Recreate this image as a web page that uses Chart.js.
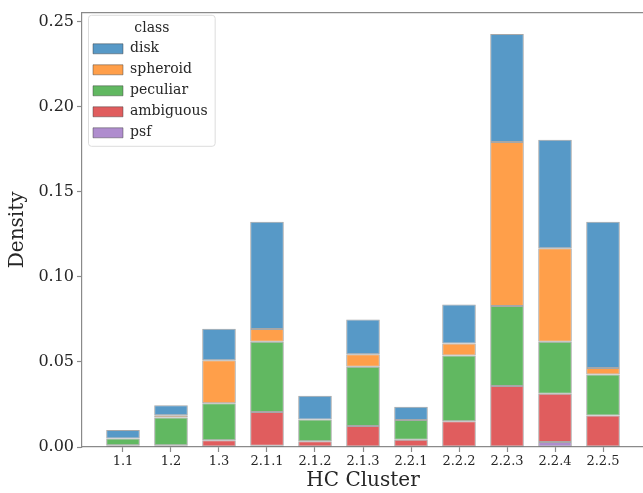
<!DOCTYPE html>
<html>
<head>
<meta charset="utf-8">
<script src="https://cdn.jsdelivr.net/npm/chart.js@4.4.1/dist/chart.umd.min.js"></script>
<style>
  html, body { margin: 0; padding: 0; background: #fff; overflow: hidden; }
  #wrap { width: 660px; height: 493px; }
</style>
</head>
<body>
<div id="wrap"><canvas id="chart" width="660" height="493"></canvas></div>
<script>
// HC cluster labels
const clusters = ['1.1', '1.2', '1.3', '2.1.1', '2.1.2', '2.1.3', '2.2.1', '2.2.2', '2.2.3', '2.2.4', '2.2.5'];

// density per class (stacked, bottom to top: psf, ambiguous, peculiar, spheroid, disk)
const psf       = [0, 0, 0, 0.0008, 0, 0, 0, 0, 0, 0.0030, 0];
const ambiguous = [0.0010, 0.0010, 0.0040, 0.0197, 0.0034, 0.0123, 0.0042, 0.0151, 0.0359, 0.0283, 0.0185];
const peculiar  = [0.0040, 0.0163, 0.0217, 0.0414, 0.0128, 0.0349, 0.0116, 0.0387, 0.0469, 0.0306, 0.0241];
const spheroid  = [0, 0.0014, 0.0252, 0.0074, 0, 0.0073, 0, 0.0070, 0.0964, 0.0548, 0.0038];
const disk      = [0.0050, 0.0058, 0.0186, 0.0631, 0.0139, 0.0204, 0.0078, 0.0229, 0.0634, 0.0638, 0.0860];

const yTicks = [0, 0.05, 0.10, 0.15, 0.20, 0.25];

const axisGray = '#8a8a8a';
const textColor = '#262626';
const serif = 'DejaVu Serif';

function series(label, values, color) {
    return {
        label,
        data: values.map((v, i) => ({ x: i, y: v })),
        backgroundColor: color,
        borderColor: 'rgba(60,60,60,0.45)',
        borderWidth: 1,
        borderSkipped: false,
        categoryPercentage: 0.7,
        barPercentage: 1.0
    };
}

// nudges the legend into place, draws its frame and the top spine
const extras = {
    id: 'extras',
    afterLayout(chart) {
        const lg = chart.legend;
        if (!lg) return;
        lg.left += 4;
        lg.right += 4;
        lg.top += 6;
        lg.bottom += 6;
    },
    beforeDraw(chart) {
        const ctx = chart.ctx;
        const lg = chart.legend;
        if (lg && lg.legendHitBoxes && lg.legendHitBoxes.length) {
            const hb = lg.legendHitBoxes;
            let l = Infinity, r = -Infinity, b = -Infinity, t = Infinity;
            hb.forEach(h => {
                l = Math.min(l, h.left); r = Math.max(r, h.left + h.width);
                t = Math.min(t, h.top); b = Math.max(b, h.top + h.height);
            });
            const x0 = l - 5, y0 = t - 27, x1 = r + 7, y1 = b + 6;
            ctx.save();
            ctx.fillStyle = 'rgba(255,255,255,0.85)';
            ctx.strokeStyle = '#dcdcdc';
            ctx.lineWidth = 1;
            ctx.beginPath();
            ctx.roundRect(x0 + 0.5, y0 + 0.5, x1 - x0, y1 - y0, 3);
            ctx.fill();
            ctx.stroke();
            ctx.restore();
        }
    },
    afterDraw(chart) {
        const { ctx, chartArea } = chart;
        ctx.save();
        ctx.strokeStyle = axisGray;
        ctx.lineWidth = 1.2;
        ctx.beginPath();
        ctx.moveTo(chartArea.left, chartArea.top);
        ctx.lineTo(chartArea.right, chartArea.top);
        ctx.stroke();
        ctx.restore();
    }
};

new Chart(document.getElementById('chart'), {
    type: 'bar',
    data: {
        datasets: [
            series('psf', psf, 'rgba(148,103,189,0.75)'),
            series('ambiguous', ambiguous, 'rgba(214,39,40,0.75)'),
            series('peculiar', peculiar, 'rgba(44,160,44,0.75)'),
            series('spheroid', spheroid, 'rgba(255,127,14,0.75)'),
            series('disk', disk, 'rgba(31,119,180,0.75)')
        ]
    },
    options: {
        responsive: false,
        animation: false,
        devicePixelRatio: 1,
        layout: { padding: { top: 7, right: 16, left: 0, bottom: 0 } },
        plugins: {
            tooltip: { enabled: false },
            legend: {
                position: 'chartArea',
                align: 'start',
                reverse: true,
                title: {
                    display: true,
                    text: 'class',
                    color: textColor,
                    font: { family: serif, size: 14 },
                    padding: { top: 15, bottom: -3 }
                },
                labels: {
                    boxWidth: 30,
                    boxHeight: 10,
                    padding: 7,
                    color: textColor,
                    font: { family: serif, size: 14 }
                }
            }
        },
        scales: {
            x: {
                type: 'linear',
                stacked: true,
                offset: false,
                min: -0.854,
                max: clusters.length - 1 + 0.854,
                afterBuildTicks: axis => { axis.ticks = clusters.map((_, i) => ({ value: i })); },
                ticks: {
                    callback: v => clusters[v],
                    color: textColor,
                    font: { family: serif, size: 13 },
                    padding: 2,
                    maxRotation: 0,
                    autoSkip: false
                },
                grid: { offset: false, drawOnChartArea: false, tickLength: 5, color: axisGray, tickWidth: 1.2 },
                border: { color: axisGray, width: 1.2 },
                title: {
                    display: true,
                    text: 'HC Cluster',
                    color: textColor,
                    font: { family: serif, size: 20 },
                    padding: { top: 0, bottom: 0 }
                },
                afterFit: s => { s.height = 46; }
            },
            y: {
                stacked: true,
                min: 0,
                max: 0.2552,
                afterBuildTicks: axis => { axis.ticks = yTicks.map(v => ({ value: v })); },
                ticks: {
                    callback: v => v.toFixed(2),
                    color: textColor,
                    font: { family: serif, size: 16 },
                    padding: 3
                },
                grid: { drawOnChartArea: false, tickLength: 5, color: axisGray, tickWidth: 1.2 },
                border: { color: axisGray, width: 1.2 },
                title: {
                    display: true,
                    text: 'Density',
                    color: textColor,
                    font: { family: serif, size: 20 },
                    padding: { top: 6, bottom: 0 }
                },
                afterFit: s => { s.width = 82; }
            }
        }
    },
    plugins: [extras]
});
</script>
</body>
</html>
